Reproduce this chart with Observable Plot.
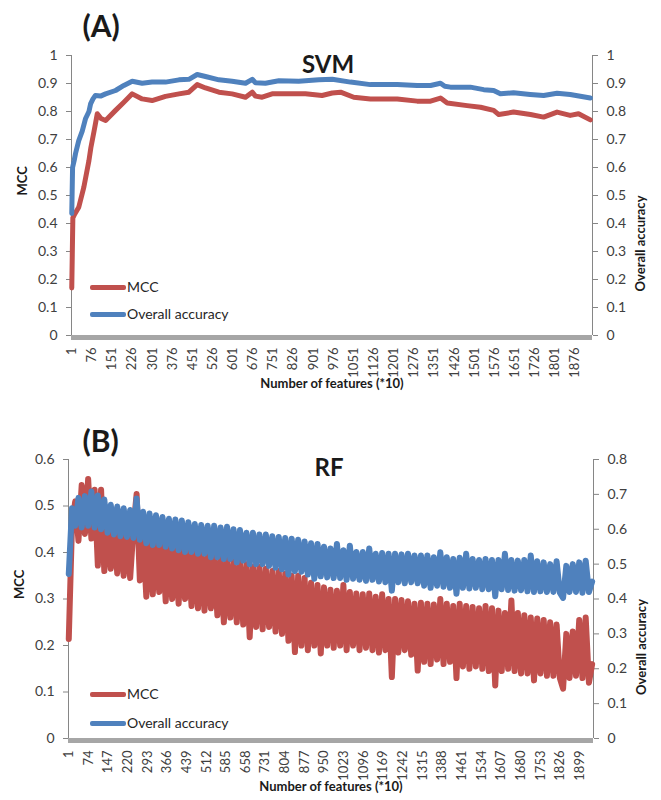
<!DOCTYPE html>
<html><head><meta charset="utf-8">
<script src="https://cdn.jsdelivr.net/npm/d3@7"></script>
<script src="https://cdn.jsdelivr.net/npm/@observablehq/plot@0.6"></script>
<style>
body{margin:0;background:#fff;font-family:Lato,"Open Sans",sans-serif;}
#wrap{position:relative;width:661px;height:800px;}
.panel{position:absolute;left:0;width:661px;height:400px;}
.leg{position:absolute;font-size:14px;color:#262626;line-height:16px;white-space:nowrap;}
.sw{position:absolute;width:36px;height:5px;border-radius:2px;}
</style></head><body>
<div id="wrap"></div>
<script>
// ---------- Panel A: SVM ----------
const svmXTicks = [1,76,151,226,301,376,451,526,601,676,751,826,901,976,1051,1126,1201,1276,1351,1426,1501,1576,1651,1726,1801,1876];
const svmYTicks = [0,0.1,0.2,0.3,0.4,0.5,0.6,0.7,0.8,0.9,1];
const svmMaxFeature = 1940;
const svmAccFeatures = [1,4,10,15,27,40,52,65,71,80,89,108,127,164,195,226,263,300,350,400,437,468,499,549,598,648,673,685,722,772,846,921,971,1039,1113,1213,1287,1337,1374,1390,1411,1485,1535,1572,1597,1646,1708,1758,1808,1857,1932];
const svmAcc = [0.436,0.60,0.625,0.65,0.696,0.73,0.774,0.80,0.827,0.845,0.857,0.855,0.863,0.875,0.893,0.908,0.901,0.905,0.905,0.913,0.915,0.932,0.925,0.913,0.908,0.901,0.915,0.903,0.901,0.91,0.908,0.913,0.915,0.905,0.896,0.896,0.893,0.893,0.901,0.89,0.887,0.887,0.878,0.875,0.863,0.867,0.861,0.857,0.865,0.861,0.848];
const svmMccFeatures = [1,5,10,27,46,65,72,84,96,110,127,164,195,226,263,300,350,400,437,468,499,549,598,648,673,685,710,747,822,871,933,971,1002,1051,1113,1213,1287,1337,1374,1399,1473,1523,1572,1591,1646,1709,1758,1808,1857,1888,1932];
const svmMcc = [0.17,0.42,0.43,0.458,0.53,0.625,0.67,0.73,0.792,0.775,0.768,0.804,0.833,0.863,0.845,0.839,0.854,0.863,0.869,0.896,0.884,0.869,0.863,0.851,0.869,0.855,0.851,0.863,0.863,0.863,0.857,0.866,0.869,0.851,0.845,0.845,0.837,0.837,0.848,0.83,0.821,0.815,0.804,0.789,0.798,0.789,0.78,0.798,0.786,0.792,0.77];

// ---------- Panel B: RF ----------
const rfXTicks = [1,74,147,220,293,366,439,512,585,658,731,804,877,950,1023,1096,1169,1242,1315,1388,1461,1534,1607,1680,1753,1826,1899];
const rfMccTicks = [0,0.1,0.2,0.3,0.4,0.5,0.6];
const rfAccTicks = [0,0.1,0.2,0.3,0.4,0.5,0.6,0.7,0.8];
const rfMaxFeature = 1950;
const rfStep = 12; // one reading every 12 feature-sets
const rfMcc = [
0.214,0.46,0.51,0.425,0.545,0.44,0.558,0.43,0.535,0.372,
0.535,0.36,0.47,0.365,0.465,0.355,0.46,0.35,0.455,0.345,
0.45,0.526,0.34,0.44,0.305,0.435,0.31,0.43,0.315,0.425,
0.295,0.42,0.30,0.415,0.29,0.41,0.30,0.405,0.285,0.40,
0.28,0.40,0.275,0.395,0.28,0.39,0.265,0.39,0.25,0.385,
0.26,0.38,0.25,0.38,0.245,0.375,0.218,0.37,0.24,0.37,
0.235,0.365,0.24,0.36,0.23,0.36,0.225,0.355,0.21,0.35,
0.186,0.35,0.20,0.345,0.19,0.335,0.20,0.33,0.183,0.325,
0.20,0.32,0.195,0.318,0.20,0.33,0.19,0.315,0.20,0.312,
0.19,0.31,0.195,0.312,0.19,0.305,0.185,0.31,0.19,0.30,
0.132,0.30,0.185,0.298,0.19,0.295,0.18,0.29,0.146,0.292,
0.165,0.29,0.16,0.288,0.17,0.30,0.16,0.29,0.165,0.285,
0.13,0.29,0.155,0.285,0.15,0.283,0.155,0.28,0.15,0.285,
0.145,0.28,0.114,0.275,0.145,0.27,0.15,0.297,0.145,0.27,
0.14,0.265,0.14,0.26,0.125,0.258,0.14,0.255,0.135,0.25,
0.135,0.245,0.13,0.107,0.225,0.13,0.23,0.135,0.255,0.13,
0.26,0.12,0.16];
const rfAcc = [
0.472,0.66,0.61,0.69,0.605,0.695,0.61,0.708,0.605,0.697,
0.60,0.685,0.59,0.67,0.585,0.665,0.58,0.66,0.578,0.655,
0.575,0.688,0.57,0.65,0.56,0.645,0.555,0.64,0.555,0.635,
0.55,0.63,0.545,0.628,0.54,0.625,0.535,0.62,0.535,0.615,
0.53,0.612,0.53,0.61,0.52,0.61,0.52,0.605,0.515,0.607,
0.515,0.60,0.505,0.598,0.51,0.59,0.50,0.59,0.50,0.585,
0.50,0.585,0.495,0.58,0.49,0.578,0.485,0.575,0.47,0.573,
0.48,0.57,0.478,0.565,0.47,0.56,0.458,0.558,0.465,0.55,
0.462,0.545,0.46,0.558,0.46,0.54,0.455,0.553,0.458,0.535,
0.455,0.535,0.452,0.545,0.455,0.53,0.45,0.532,0.448,0.53,
0.424,0.53,0.448,0.528,0.445,0.53,0.448,0.525,0.445,0.525,
0.438,0.525,0.432,0.52,0.438,0.534,0.435,0.52,0.432,0.515,
0.415,0.518,0.432,0.53,0.43,0.515,0.432,0.512,0.428,0.515,
0.428,0.512,0.408,0.512,0.428,0.53,0.426,0.512,0.424,0.51,
0.425,0.512,0.422,0.525,0.42,0.508,0.422,0.505,0.42,0.50,
0.42,0.508,0.418,0.403,0.495,0.42,0.50,0.42,0.505,0.418,
0.51,0.42,0.45];

const RED = "#C0504D", BLUE = "#4F81BD";
const AXIS = "#868686", BAR = "#a6a6a6", TXT = "#404040", TITLE = "#1a1a1a";
const FONT = "Lato, 'Open Sans', sans-serif";
const fmt = d3.format("~g");

const rows = (fs, vs) => fs.map((f, i) => ({f, v: vs[i]}));
const rfRows = vs => vs.map((v, i) => ({f: 1 + i * rfStep, v}));

function panel({ml, mr, mt, mb, maxF, yDomain, xTicks, leftTicks, rightTicks, rightScale, series, lineWidth, letter, title, letterBaseline, titleBaseline, titleDx}) {
  return Plot.plot({
    width: 661, height: 400,
    marginLeft: ml, marginRight: mr, marginTop: mt, marginBottom: mb,
    style: {fontFamily: FONT, fontSize: "14px", color: TXT, background: "transparent"},
    x: {domain: [0, maxF], axis: null},
    y: {domain: yDomain},
    marks: [
      Plot.ruleX([0], {stroke: AXIS}),
      Plot.ruleX([maxF], {stroke: AXIS}),
      Plot.axisY(leftTicks, {anchor: "left", tickSize: 5, tickPadding: 9, tickFormat: fmt, label: null, stroke: AXIS, fill: TXT, fontSize: 14}),
      Plot.axisY(rightTicks.map(t => t * rightScale), {anchor: "right", tickSize: 5, tickPadding: 9, tickFormat: d => fmt(+(d / rightScale).toFixed(3)), label: null, stroke: AXIS, fill: TXT, fontSize: 14}),
      Plot.text(xTicks, {x: d => d, frameAnchor: "bottom", rotate: -90, textAnchor: "end", lineAnchor: "middle", dy: 12, text: d => String(d), fill: TXT, fontSize: 13}),
      ...series.map(s => Plot.line(s.data, {x: "f", y: d => d.v * s.scale, stroke: s.color, strokeWidth: lineWidth, strokeLinejoin: "round", strokeLinecap: "round"})),
      Plot.ruleY([0], {stroke: BAR, strokeWidth: 5, dy: 2}),
      Plot.text(["MCC"], {frameAnchor: "left", dx: -49, rotate: -90, fontWeight: "bold", fontSize: 13, fill: TITLE}),
      Plot.text(["Overall accuracy"], {frameAnchor: "right", dx: 48, rotate: -90, fontWeight: "bold", fontSize: 13, fill: TITLE}),
      Plot.text(["Number of features (*10)"], {frameAnchor: "bottom", dy: 52, fontWeight: "bold", fontSize: 13, fill: TITLE}),
      Plot.text([letter], {frameAnchor: "top-left", dx: 82 - ml, dy: letterBaseline - mt, textAnchor: "start", lineAnchor: "bottom", fontWeight: "bold", fontSize: 30, fill: TITLE}),
      Plot.text([title], {frameAnchor: "top", dx: titleDx, dy: titleBaseline - mt, lineAnchor: "bottom", fontWeight: "bold", fontSize: 24, fill: TITLE})
    ]
  });
}

const plotA = panel({
  ml: 71, mr: 69, mt: 55, mb: 65, maxF: svmMaxFeature, yDomain: [0, 1],
  xTicks: svmXTicks, leftTicks: svmYTicks, rightTicks: svmYTicks, rightScale: 1,
  series: [
    {data: rows(svmMccFeatures, svmMcc), color: RED, scale: 1},
    {data: rows(svmAccFeatures, svmAcc), color: BLUE, scale: 1}
  ],
  lineWidth: 5,
  letter: "(A)", title: "SVM", letterBaseline: 36, titleBaseline: 72, titleDx: -4
});
const plotB = panel({
  ml: 68, mr: 68, mt: 59, mb: 62, maxF: rfMaxFeature, yDomain: [0, 0.6],
  xTicks: rfXTicks, leftTicks: rfMccTicks, rightTicks: rfAccTicks, rightScale: 0.6 / 0.8,
  series: [
    {data: rfRows(rfMcc), color: RED, scale: 1},
    {data: rfRows(rfAcc), color: BLUE, scale: 0.6 / 0.8}
  ],
  lineWidth: 6,
  letter: "(B)", title: "RF", letterBaseline: 51, titleBaseline: 75, titleDx: -2
});

const wrap = document.getElementById("wrap");
[[plotA, 0], [plotB, 400]].forEach(([p, top]) => {
  const d = document.createElement("div");
  d.className = "panel"; d.style.top = top + "px";
  d.appendChild(p); wrap.appendChild(d);
});

// legends
function legend(items) {
  items.forEach(({y, color, label}) => {
    const s = document.createElement("div");
    s.className = "sw"; s.style.left = "90px"; s.style.top = (y - 2.5) + "px"; s.style.background = color;
    wrap.appendChild(s);
    const t = document.createElement("div");
    t.className = "leg"; t.style.left = "127px"; t.style.top = (y - 8) + "px"; t.textContent = label;
    wrap.appendChild(t);
  });
}
legend([{y: 287, color: RED, label: "MCC"}, {y: 314, color: BLUE, label: "Overall accuracy"}]);
legend([{y: 694, color: RED, label: "MCC"}, {y: 723, color: BLUE, label: "Overall accuracy"}]);
</script>
</body></html>
